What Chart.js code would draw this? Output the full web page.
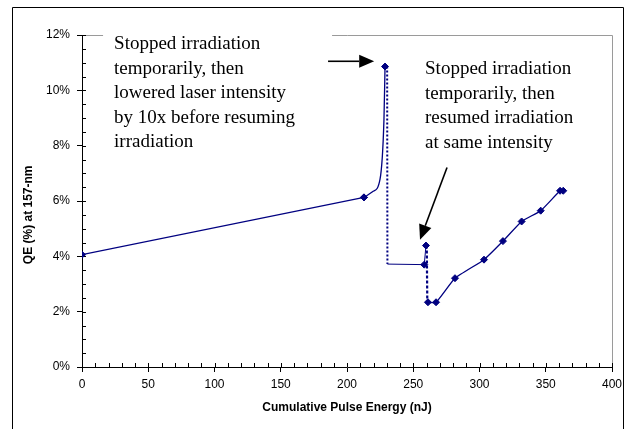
<!DOCTYPE html>
<html>
<head>
<meta charset="utf-8">
<script src="https://cdn.jsdelivr.net/npm/chart.js@4"></script>
<style>
  body { margin: 0; background: #fff; }
</style>
</head>
<body>
<canvas id="qeChart" width="633" height="429"></canvas>
<script>
// values: cumulative pulse energy (nJ) vs QE (%)
const firstRunEnergy = [0, 212.8];
const firstRunQE = [4.06, 6.13];
// the smoothed rise to the peak (only the end points carry markers)
const riseEnergy = [212.8, 219.8, 224.9, 227.9, 228.7];
const riseQE = [6.13, 6.35, 6.78, 8.95, 10.86];
const firstDropEnergy = [230.3, 230.5];
const firstDropQE = [10.86, 3.72];
const lowRunEnergy = [230.5, 258.3, 259.6];
const lowRunQE = [3.72, 3.70, 4.39];
const secondDropEnergy = [260.2, 260.6];
const secondDropQE = [4.39, 2.34];
const resumedEnergy = [261.1, 267.2, 281.5, 303.4, 317.7, 331.8, 346.2, 360.8, 363.2];
const resumedQE = [2.34, 2.34, 3.21, 3.88, 4.55, 5.26, 5.65, 6.37, 6.37];

const xTicks = [0, 50, 100, 150, 200, 250, 300, 350, 400];
const yTicks = [0, 2, 4, 6, 8, 10, 12];

const xTitle = 'Cumulative Pulse Energy (nJ)';
const yTitle = 'QE (%) at 157-nm';
const note1Lines = ['Stopped irradiation', 'temporarily, then', 'lowered laser intensity', 'by 10x before resuming', 'irradiation'];
const note2Lines = ['Stopped irradiation', 'temporarily, then', 'resumed irradiation', 'at same intensity'];

const navy = '#000080';
const tickFont = { family: '"Liberation Sans", Arial, sans-serif', size: 12 };
const titleFont = { family: '"Liberation Sans", Arial, sans-serif', size: 12, weight: 'bold' };
const noteFont = '19px "Liberation Serif", "Times New Roman", serif';

function toPoints(xs, ys) {
    return xs.map((v, i) => ({ x: v, y: ys[i] }));
}

function series(xs, ys, opts) {
    return Object.assign({
        data: toPoints(xs, ys),
        borderColor: navy,
        backgroundColor: navy,
        borderWidth: 1.3,
        pointStyle: 'rectRot',
        pointRadius: 3.5,
        pointBorderWidth: 1,
        tension: 0
    }, opts);
}

function drawArrow(ctx, x1, y1, x2, y2) {
    const ang = Math.atan2(y2 - y1, x2 - x1);
    const len = 15, half = 6.5;
    const bx = x2 - len * Math.cos(ang), by = y2 - len * Math.sin(ang);
    ctx.lineWidth = 1.6;
    ctx.beginPath();
    ctx.moveTo(x1, y1);
    ctx.lineTo(bx, by);
    ctx.stroke();
    ctx.beginPath();
    ctx.moveTo(x2, y2);
    ctx.lineTo(bx + half * Math.sin(ang), by - half * Math.cos(ang));
    ctx.lineTo(bx - half * Math.sin(ang), by + half * Math.cos(ang));
    ctx.closePath();
    ctx.fill();
}

const decorations = {
    id: 'decorations',
    beforeDatasetsDraw(chart) {
        const { ctx, chartArea: a, scales: { x, y } } = chart;
        ctx.save();
        // outer frame
        ctx.strokeStyle = '#000';
        ctx.lineWidth = 1;
        ctx.beginPath();
        ctx.moveTo(12.5, 440);
        ctx.lineTo(12.5, 7.5);
        ctx.lineTo(623.5, 7.5);
        ctx.lineTo(623.5, 440);
        ctx.stroke();
        // grey plot border, top and right
        ctx.strokeStyle = '#9a9a9a';
        ctx.beginPath();
        ctx.moveTo(a.left, Math.round(a.top) + 0.5);
        ctx.lineTo(Math.round(a.right) + 0.5, Math.round(a.top) + 0.5);
        ctx.lineTo(Math.round(a.right) + 0.5, a.bottom);
        ctx.stroke();
        // inner tick marks (minor + inner half of major)
        ctx.strokeStyle = '#000';
        ctx.beginPath();
        for (let v = 0; v <= 400; v += 10) {
            const px = Math.round(x.getPixelForValue(v)) + 0.5;
            ctx.moveTo(px, a.bottom);
            ctx.lineTo(px, a.bottom - 4);
        }
        for (let v = 0; v <= 12; v += 0.5) {
            const py = Math.round(y.getPixelForValue(v)) + 0.5;
            ctx.moveTo(a.left, py);
            ctx.lineTo(a.left + 4, py);
        }
        ctx.stroke();
        ctx.restore();
    },
    afterDatasetsDraw(chart) {
        const { ctx, chartArea: a, scales: { x, y } } = chart;
        ctx.save();

        // y axis title, centred like the original
        ctx.font = 'bold 12px "Liberation Sans", Arial, sans-serif';
        ctx.fillStyle = '#000';
        ctx.textAlign = 'center';
        ctx.textBaseline = 'middle';
        ctx.translate(29, y.getPixelForValue(5.5));
        ctx.rotate(-Math.PI / 2);
        ctx.fillText(yTitle, 0, 0);
        ctx.setTransform(1, 0, 0, 1, 0, 0);

        // note 1 (white box over the plot border)
        const n1x = x.getPixelForValue(24.2), n1y = y.getPixelForValue(11.49);
        ctx.fillStyle = '#fff';
        ctx.fillRect(n1x - 11, a.top - 4, 229, 125);
        ctx.fillStyle = '#000';
        ctx.font = noteFont;
        ctx.textAlign = 'left';
        ctx.textBaseline = 'alphabetic';
        note1Lines.forEach((t, i) => ctx.fillText(t, n1x, n1y + i * 24.5));

        // note 2
        const n2x = x.getPixelForValue(258.9), n2y = y.getPixelForValue(10.58);
        note2Lines.forEach((t, i) => ctx.fillText(t, n2x, n2y + i * 24.5));

        // arrows
        ctx.strokeStyle = '#000';
        ctx.fillStyle = '#000';
        drawArrow(ctx, x.getPixelForValue(185.7), y.getPixelForValue(11.05),
                       x.getPixelForValue(220.5), y.getPixelForValue(11.05));
        drawArrow(ctx, x.getPixelForValue(275.5), y.getPixelForValue(7.21),
                       x.getPixelForValue(255.1), y.getPixelForValue(4.60));
        ctx.restore();
    }
};

new Chart(document.getElementById('qeChart'), {
    type: 'line',
    data: {
        datasets: [
            series(firstRunEnergy, firstRunQE),
            series(riseEnergy, riseQE, { cubicInterpolationMode: 'monotone', pointRadius: [3.5, 0, 0, 0, 3.5] }),
            series(firstDropEnergy, firstDropQE, { pointRadius: 0, borderWidth: 2, borderDash: [2, 2] }),
            series(lowRunEnergy, lowRunQE, { pointRadius: [0, 3.5, 3.5], borderWidth: 1 }),
            series(secondDropEnergy, secondDropQE, { pointRadius: 0, borderWidth: 2.2, borderDash: [3, 2] }),
            series(resumedEnergy, resumedQE, { tension: 0.15 })
        ]
    },
    options: {
        responsive: false,
        animation: false,
        events: [],
        layout: { padding: { top: 35, right: 21, left: 0, bottom: 0 } },
        plugins: { legend: { display: false }, tooltip: { enabled: false } },
        scales: {
            x: {
                type: 'linear',
                min: 0,
                max: 400,
                afterFit: s => { s.height = 62; },
                afterBuildTicks: s => { s.ticks = xTicks.map(v => ({ value: v })); },
                border: { display: true, color: '#000', width: 1 },
                grid: { drawOnChartArea: false, drawTicks: true, tickLength: 5, color: '#000' },
                ticks: { color: '#000', font: tickFont, padding: 5, maxRotation: 0 },
                title: { display: true, text: xTitle, color: '#000', font: titleFont, padding: { top: 0, bottom: 14 } }
            },
            y: {
                type: 'linear',
                min: 0,
                max: 12,
                afterFit: s => { s.width = 82; },
                afterBuildTicks: s => { s.ticks = yTicks.map(v => ({ value: v })); },
                border: { display: true, color: '#000', width: 1 },
                grid: { drawOnChartArea: false, drawTicks: true, tickLength: 5, color: '#000' },
                ticks: { color: '#000', font: tickFont, padding: 7, callback: v => v + '%' }
            }
        }
    },
    plugins: [decorations]
});
</script>
</body>
</html>
